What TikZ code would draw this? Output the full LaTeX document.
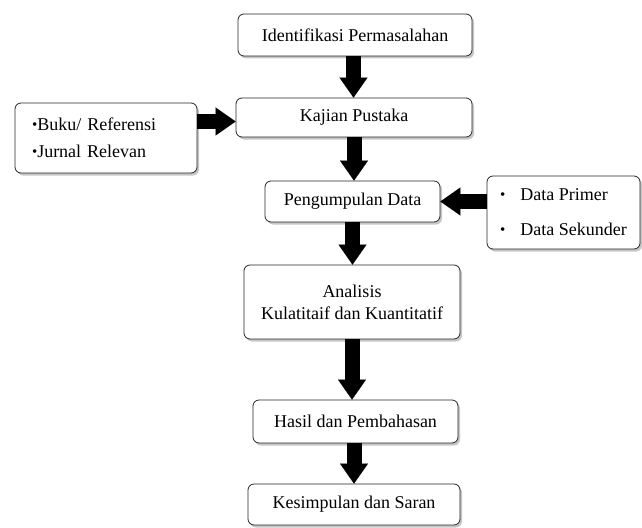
\documentclass[tikz,border=0pt]{standalone}
\usepackage{fontspec}
\setmainfont{Liberation Serif}
\usetikzlibrary{arrows.meta,shadows,calc}
\newcommand{\mybul}{\raisebox{1pt}{\fontsize{15}{15}\selectfont\textbullet}}
\begin{document}
\begin{tikzpicture}[x=1pt,y=-1pt,
 box/.style={draw=black!85, line width=0.8pt, rounded corners=6pt, fill=white,
   drop shadow={shadow xshift=2pt,shadow yshift=-2.5pt,opacity=0.45},
   font=\fontsize{18}{22}\selectfont, inner sep=0pt, align=center},
 bigarrow/.style={line width=15pt, -{Triangle[width=28pt,length=20pt,line width=0.01pt]}},
]
\useasboundingbox (0,0) rectangle (642,527);
\node[box, minimum width=234pt, minimum height=42pt] (b1) at (355,35) {Identifikasi Permasalahan};
\node[box, minimum width=236pt, minimum height=39pt] (b2) at (354,117.5) {Kajian Pustaka};
\node[box, minimum width=182pt, minimum height=70pt, text width=148pt, align=left] (lit) at (106,138) {\mybul Buku/ Referensi\\[5pt]\mybul Jurnal Relevan};
\node[box, minimum width=175pt, minimum height=41pt] (b3) at (352.5,201.5) {Pengumpulan Data};
\node[box, minimum width=153pt, minimum height=73pt, align=left] (dat) at (563.5,212.5) {\mybul\hspace{15pt}Data Primer\\[13pt]\mybul\hspace{15pt}Data Sekunder};
\node[box, minimum width=216pt, minimum height=74pt] (b4) at (352,302) {Analisis\\Kulatitaif dan Kuantitatif};
\node[box, minimum width=205pt, minimum height=43pt] (b5) at (355.5,421.5) {Hasil dan Pembahasan};
\node[box, minimum width=212pt, minimum height=41pt] (b6) at (354,504.5) {Kesimpulan dan Saran};
\draw[bigarrow] ([xshift=-1.5pt]b1.south) -- ([xshift=-1.5pt]b1.south |- b2.north);
\draw[bigarrow] (b2.south) -- (b2.south |- b3.north);
\draw[bigarrow] (b3.south) -- (b3.south |- b4.north);
\draw[bigarrow] (b4.south) -- (b4.south |- b5.north);
\draw[bigarrow] ([xshift=-1.5pt]b5.south) -- ([xshift=-1.5pt]b5.south |- b6.north);
\draw[bigarrow] ([yshift=-4pt]b2.west -| lit.east) -- ([yshift=-4pt]b2.west);
\draw[bigarrow] (b3.east -| dat.west) -- (b3.east);
\end{tikzpicture}
\end{document}
